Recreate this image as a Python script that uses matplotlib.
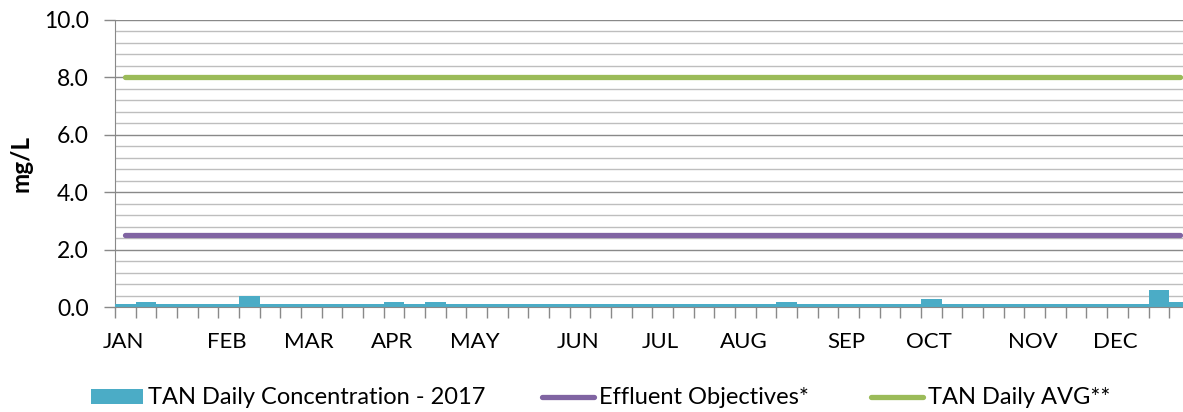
import matplotlib
matplotlib.use("Agg")
import matplotlib.pyplot as plt
from matplotlib.patches import Patch
from matplotlib.lines import Line2D
import numpy as np

plt.rcParams['font.family'] = ['Lato', 'DejaVu Sans']

# Weekly TAN concentrations (mg/L), 52 weeks of 2017
tan_weekly = [0.1, 0.2, 0.1, 0.1, 0.1, 0.1, 0.4, 0.1, 0.1, 0.1,
              0.1, 0.1, 0.1, 0.2, 0.1, 0.2, 0.1, 0.1, 0.1, 0.1,
              0.1, 0.1, 0.1, 0.1, 0.1, 0.1, 0.1, 0.1, 0.1, 0.1,
              0.1, 0.1, 0.2, 0.1, 0.1, 0.1, 0.1, 0.1, 0.1, 0.3,
              0.1, 0.1, 0.1, 0.1, 0.1, 0.1, 0.1, 0.1, 0.1, 0.1,
              0.6, 0.2]
effluent_objective = 2.5
tan_daily_avg = 8.0
month_labels = {0: "JAN", 5: "FEB", 9: "MAR", 13: "APR", 17: "MAY", 22: "JUN",
                26: "JUL", 30: "AUG", 35: "SEP", 39: "OCT", 44: "NOV", 48: "DEC"}

c_bar = "#4BACC6"
c_purple = "#8064A2"
c_green = "#9BBB59"

W, H = 1183, 412
fig = plt.figure(figsize=(W / 100, H / 100), dpi=100)
n = len(tan_weekly)
cat_w = 20.67
left_px, bottom_px, top_px = 115, 307.3, 20
ax = fig.add_axes([left_px / W, (H - bottom_px) / H, n * cat_w / W, (bottom_px - top_px) / H])

x = np.arange(n)
ax.bar(x + 0.5, tan_weekly, width=1.0, color=c_bar, zorder=3, linewidth=0)
ax.plot(x + 0.5, [effluent_objective] * n, color=c_purple, lw=3.8, solid_capstyle='round', zorder=4)
ax.plot(x + 0.5, [tan_daily_avg] * n, color=c_green, lw=3.8, solid_capstyle='round', zorder=4)

ax.set_xlim(0, n)
ax.set_ylim(0, 10)
ax.set_yticks(np.arange(0, 10.01, 2))
ax.set_yticklabels([f"{v:.1f}" for v in np.arange(0, 10.01, 2)])
ax.set_yticks(np.arange(0, 10.01, 0.4), minor=True)
ax.yaxis.grid(True, which='major', color='#898989', lw=1.0, zorder=0)
ax.yaxis.grid(True, which='minor', color='#BEBEBE', lw=1.0, zorder=0)
ax.tick_params(axis='y', which='major', length=8, width=1, color='#898989', pad=11, labelsize=16.5)
ax.tick_params(axis='y', which='minor', length=0)

ax.set_xticks(np.arange(0, n + 1))
ax.set_xticklabels([])
ax.tick_params(axis='x', which='major', length=8, width=1, color='#898989', direction='out')
ax.set_xticks([k + 0.4 for k in month_labels], minor=True)
ax.set_xticklabels(list(month_labels.values()), minor=True)
ax.tick_params(axis='x', which='minor', length=0, pad=18, labelsize=16)

for s in ['top', 'right']:
    ax.spines[s].set_visible(False)
ax.spines['left'].set_color('#898989')
ax.spines['bottom'].set_color('#898989')
ax.spines['bottom'].set_zorder(5)

ax.set_ylabel("mg/L", fontsize=17.5, fontweight='bold')
ax.yaxis.set_label_coords(-(115 - 32) / (n * cat_w), 0.5)

leg_y = (H - 398) / H
items = [
    (Patch(facecolor=c_bar, edgecolor='none'), "TAN Daily Concentration - 2017", 91),
    (Line2D([], [], color=c_purple, lw=3.8, solid_capstyle='round'), "Effluent Objectives*", 542),
    (Line2D([], [], color=c_green, lw=3.8, solid_capstyle='round'), "TAN Daily AVG**", 871),
]
for h, lab, xp in items:
    fig.legend([h], [lab], loc='center left', bbox_to_anchor=(xp / W, leg_y),
               frameon=False, borderpad=0, borderaxespad=0, handlelength=2.2,
               handleheight=0.6, handletextpad=0.2, fontsize=17)

fig.savefig("out.png", dpi=100)
